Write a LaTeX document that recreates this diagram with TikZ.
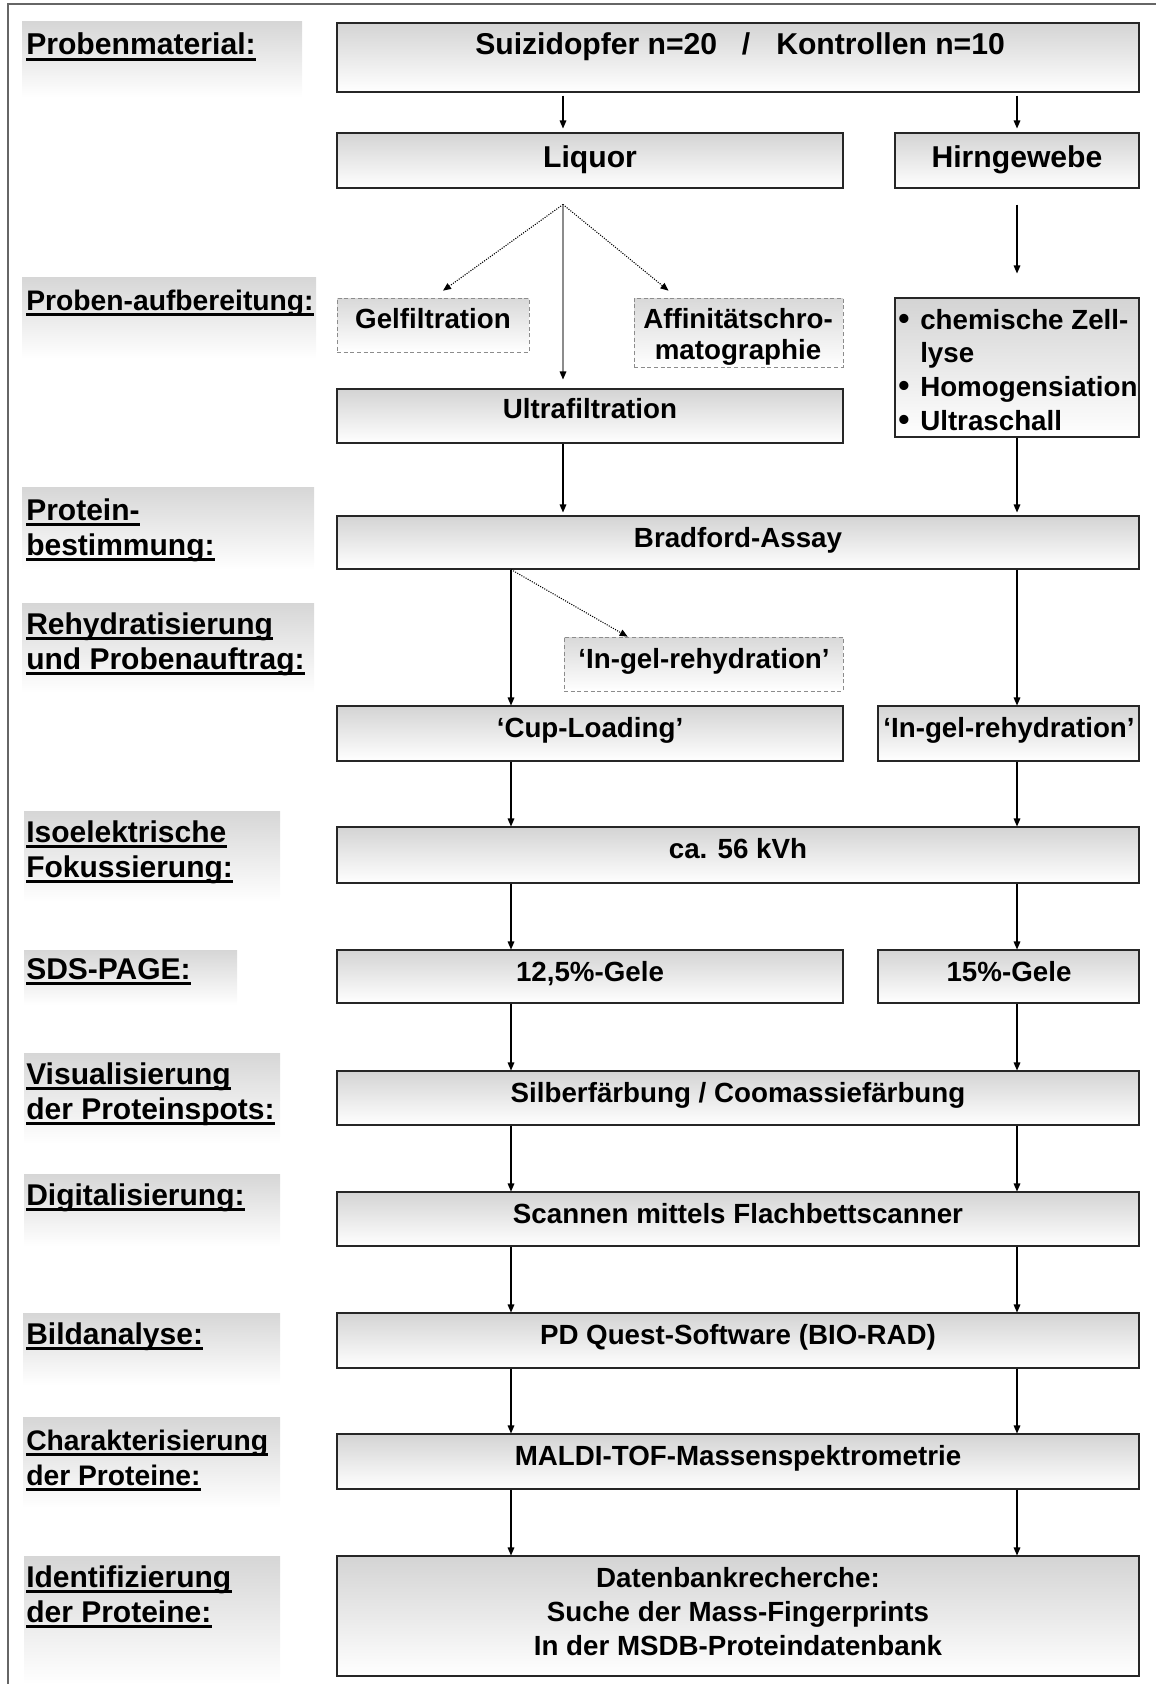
\documentclass[tikz,border=0pt]{standalone}
\usepackage{fontspec}
\setmainfont{Liberation Sans}
\usetikzlibrary{arrows.meta,shadows,fit,calc}
\begin{document}
\begin{tikzpicture}[x=0.75pt,y=-0.75pt,
  box/.style={draw=black!85, line width=0.8pt, top color=black!17, bottom color=white, inner sep=0pt,
    drop shadow={shadow xshift=1.1pt,shadow yshift=-1.1pt,fill=black!45,opacity=1}},
  dbox/.style={draw=black!45, densely dashed, line width=0.5pt, top color=black!15, bottom color=white, inner sep=0pt},
  lblbg/.style={top color=black!16, bottom color=white, draw=none, inner sep=0pt},
  big/.style={font=\fontsize{22.6}{27}\selectfont\bfseries, inner sep=0pt},
  lbl/.style={font=\fontsize{22.5}{27}\selectfont\bfseries, inner sep=0pt},
  lbls/.style={font=\fontsize{21.2}{26}\selectfont\bfseries, inner sep=0pt},
  txt/.style={font=\fontsize{20.8}{25}\selectfont\bfseries, inner sep=0pt},
  bul/.style={font=\fontsize{24}{25}\selectfont\bfseries, inner sep=0pt},
  arr/.style={-{Triangle[length=6pt,width=5pt]}, line width=0.8pt, black},
  darr/.style={arr, densely dotted},
  garr/.style={-{Triangle[length=6pt,width=5pt,color=black]}, line width=0.8pt, black!45},
  ul/.style={line width=2.7pt}
]
\useasboundingbox (0,0) rectangle (1156,1684);
% frame
\draw[black!60, line width=1.1pt] (8,1684) -- (8,4) -- (1156,4);

% columns
\coordinate (cM) at (563,0);
\coordinate (cL) at (511,0);
\coordinate (cR) at (1017,0);

% ---------- label backgrounds ----------
\node[lblbg, fit={(22,22) (302,97)}] (bgA) {};
\node[lblbg, fit={(22,277) (316,358)}] (bgB) {};
\node[lblbg, fit={(22,487) (314,570)}] (bgC) {};
\node[lblbg, fit={(22,603) (314,693)}] (bgD) {};
\node[lblbg, fit={(24,811) (280,902)}] (bgE) {};
\node[lblbg, fit={(24,950) (237,1005)}] (bgF) {};
\node[lblbg, fit={(24,1053) (280,1144)}] (bgG) {};
\node[lblbg, fit={(24,1174) (280,1246)}] (bgH) {};
\node[lblbg, fit={(23,1313) (280,1385)}] (bgI) {};
\node[lblbg, fit={(23,1417) (280,1508)}] (bgJ) {};
\node[lblbg, fit={(24,1556) (280,1684)}] (bgK) {};

% ---------- label texts ----------
\node[big, anchor=base west] (lA) at (26,55) {Probenmaterial:};
\node[lbls, anchor=base west] (lB) at (26,310) {Proben-aufbereitung:};
\node[lbl, anchor=base west] (lC1) at (26,520) {Protein-};
\node[lbl, anchor=base west] (lC2) at (26,555) {bestimmung:};
\node[lbl, anchor=base west] (lD1) at (26,634) {Rehydratisierung\hspace{0.278em}};
\node[lbl, anchor=base west] (lD2) at (26,669) {und Probenauftrag:};
\node[lbl, anchor=base west] (lE1) at (26,842) {Isoelektrische\hspace{0.278em}};
\node[lbl, anchor=base west] (lE2) at (26,877) {Fokussierung:\hspace{0.278em}};
\node[lbl, anchor=base west] (lF) at (26,979) {SDS-PAGE:};
\node[lbl, anchor=base west] (lG1) at (26,1084) {Visualisierung\hspace{0.278em}};
\node[lbl, anchor=base west] (lG2) at (26,1119) {der Proteinspots:};
\node[lbl, anchor=base west] (lH) at (26,1205) {Digitalisierung:};
\node[lbl, anchor=base west] (lI) at (26,1344) {Bildanalyse:};
\node[lbls, anchor=base west] (lJ1) at (26,1450) {Charakterisierung\hspace{0.278em}};
\node[lbls, anchor=base west] (lJ2) at (26,1485) {der Proteine:};
\node[lbl, anchor=base west] (lK1) at (26,1587) {Identifizierung\hspace{0.278em}};
\node[lbl, anchor=base west] (lK2) at (26,1622) {der Proteine:};
\foreach \n in {lA,lB,lC1,lC2,lD1,lD2,lE1,lE2,lF,lG1,lG2,lH,lI,lJ1,lJ2,lK1,lK2}
  \draw[ul] ($(\n.base west)+(0,4.5)$) -- ($(\n.base east)+(0,4.5)$);

% ---------- boxes ----------
\node[box, fit={(337,23) (1139,92)}] (top) {};
\node[box, fit={(337,133) (843,188)}] (liq) {};
\node[box, fit={(895,133) (1139,188)}] (hirn) {};
\node[dbox, fit={(337,298) (529,352)}] (gel) {};
\node[dbox, fit={(634,298) (843,367)}] (aff) {};
\node[box, fit={(895,298) (1139,437)}] (chem) {};
\node[box, fit={(337,389) (843,443)}] (ultra) {};
\node[box, fit={(337,516) (1139,569)}] (brad) {};
\node[dbox, fit={(564,637) (843,691)}] (ingm) {};
\node[box, fit={(337,706) (843,761)}] (cup) {};
\node[box, fit={(878,706) (1139,761)}] (ingr) {};
\node[box, fit={(337,827) (1139,883)}] (iso) {};
\node[box, fit={(337,950) (843,1003)}] (gel12) {};
\node[box, fit={(878,950) (1139,1003)}] (gel15) {};
\node[box, fit={(337,1071) (1139,1125)}] (silb) {};
\node[box, fit={(337,1192) (1139,1246)}] (scan) {};
\node[box, fit={(337,1313) (1139,1368)}] (pdq) {};
\node[box, fit={(337,1434) (1139,1489)}] (maldi) {};
\node[box, fit={(337,1556) (1139,1676)}] (db) {};

% ---------- box texts ----------
\node[big, anchor=base west] (tS) at (475,55) {Suizidopfer n=20};
\node[big, anchor=base] (tSl) at (746,55) {/};
\node[big, anchor=base west] (tK) at (776,55) {Kontrollen n=10};
\node[big, anchor=base] (tLiq) at (590,167) {Liquor};
\node[big, anchor=base] (tHirn) at (1017,167) {Hirngewebe};
\node[txt, anchor=base] (tGel) at (433,328) {Gelfiltration};
\node[txt, anchor=base] (tAff1) at (738,328) {Affinitätschro-};
\node[txt, anchor=base] (tAff2) at (738,359) {matographie};
\node[bul, anchor=base west] (b1) at (898,329) {•};
\node[txt, anchor=base west] (tC1) at (920,329) {chemische Zell-};
\node[txt, anchor=base west] (tC2) at (920,362) {lyse};
\node[bul, anchor=base west] (b2) at (898,396) {•};
\node[txt, anchor=base west] (tC3) at (920,396) {Homogensiation};
\node[bul, anchor=base west] (b3) at (898,430) {•};
\node[txt, anchor=base west] (tC4) at (920,430) {Ultraschall};
\node[txt, anchor=base] (tUltra) at (590,418) {Ultrafiltration};
\node[txt, anchor=base] (tBrad) at (738,547) {Bradford-Assay};
\node[txt, anchor=base] (tIngm) at (704,668) {‘In-gel-rehydration’};
\node[txt, anchor=base] (tCup) at (590,737) {‘Cup-Loading’};
\node[txt, anchor=base] (tIngr) at (1009,737) {‘In-gel-rehydration’};
\node[txt, anchor=base] (tIso) at (738,858) {ca. 56 kVh};
\node[txt, anchor=base] (tG12) at (590,981) {12,5\%-Gele};
\node[txt, anchor=base] (tG15) at (1009,981) {15\%-Gele};
\node[txt, anchor=base] (tSilb) at (738,1102) {Silberfärbung / Coomassiefärbung};
\node[txt, anchor=base] (tScan) at (738,1223) {Scannen mittels Flachbettscanner};
\node[txt, anchor=base] (tPdq) at (738,1344) {PD Quest-Software (BIO-RAD)};
\node[txt, anchor=base] (tMaldi) at (738,1465) {MALDI-TOF-Massenspektrometrie};
\node[txt, anchor=base] (tDb1) at (738,1587) {Datenbankrecherche:};
\node[txt, anchor=base] (tDb2) at (738,1621) {Suche der Mass-Fingerprints};
\node[txt, anchor=base] (tDb3) at (738,1655) {In der MSDB-Proteindatenbank};

% ---------- connectors ----------
\draw[arr] ($(top.south -| cM)+(0,3)$) -- ($(liq.north -| cM)+(0,-4)$);
\draw[arr] ($(top.south -| cR)+(0,3)$) -- ($(hirn.north -| cR)+(0,-4)$);
\coordinate (apex) at ($(liq.south -| cM)+(0,16)$);
\coordinate (gtip) at ($(gel.north)+(10,-7)$);
\coordinate (atip) at ($(aff.north)+(-70,-7)$);
\draw[darr] (apex) -- (gtip);
\draw[darr] (apex) -- (atip);
\draw[garr] (apex) -- ($(ultra.north -| cM)+(0,-9)$);
\draw[arr] ($(hirn.south -| cR)+(0,16)$) -- ($(chem.north -| cR)+(0,-24)$);
\draw[arr] (ultra.south -| cM) -- ($(brad.north -| cM)+(0,-3)$);
\draw[arr] (chem.south -| cR) -- ($(brad.north -| cR)+(0,-3)$);
\draw[arr] (brad.south -| cL) -- (cup.north -| cL);
\draw[darr] (brad.south -| cL) -- ($(ingm.north west)+(64,0)$);
\draw[arr] (brad.south -| cR) -- (ingr.north -| cR);
\draw[arr] (cup.south -| cL) -- (iso.north -| cL);
\draw[arr] (ingr.south -| cR) -- (iso.north -| cR);
\draw[arr] (iso.south -| cL) -- (gel12.north -| cL);
\draw[arr] (iso.south -| cR) -- (gel15.north -| cR);
\draw[arr] (gel12.south -| cL) -- (silb.north -| cL);
\draw[arr] (gel15.south -| cR) -- (silb.north -| cR);
\draw[arr] (silb.south -| cL) -- (scan.north -| cL);
\draw[arr] (silb.south -| cR) -- (scan.north -| cR);
\draw[arr] (scan.south -| cL) -- (pdq.north -| cL);
\draw[arr] (scan.south -| cR) -- (pdq.north -| cR);
\draw[arr] (pdq.south -| cL) -- (maldi.north -| cL);
\draw[arr] (pdq.south -| cR) -- (maldi.north -| cR);
\draw[arr] (maldi.south -| cL) -- (db.north -| cL);
\draw[arr] (maldi.south -| cR) -- (db.north -| cR);
\end{tikzpicture}
\end{document}
